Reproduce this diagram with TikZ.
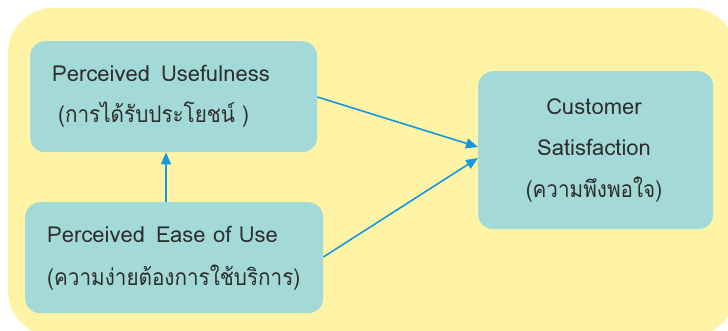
\documentclass[tikz,border=0pt]{standalone}
\usepackage{fontspec}
\usetikzlibrary{arrows.meta}
\newfontfamily\thaifont[Script=Thai]{Loma}
\definecolor{panel}{RGB}{255,244,166}
\definecolor{boxfill}{RGB}{163,218,216}
\definecolor{link}{RGB}{22,152,222}
\definecolor{ink}{RGB}{45,45,45}
% Thai lines are set a little narrower than the Latin ones
\newcommand{\thailine}[1]{\scalebox{0.94}[1.04]{#1}}
\begin{document}
\begin{tikzpicture}[x=1pt,y=-1pt,
  box/.style={draw=none,fill=boxfill,rounded corners=15pt,inner sep=0pt,anchor=north west},
  txt/.style={inner sep=0pt,text=ink,font=\thaifont\fontsize{22}{26}\selectfont},
  link/.style={draw=link,line width=1.6pt,-{Triangle[length=12pt,width=10pt]}}]
\useasboundingbox (0,0) rectangle (728,331);
\fill[panel,rounded corners=45pt] (8,8) rectangle (736,336);
% the three constructs
\node[box,minimum width=287pt,minimum height=111pt] (pu) at (30,41) {};
\node[box,minimum width=298pt,minimum height=111pt] (peou) at (25,202) {};
\node[box,minimum width=235pt,minimum height=158pt] (cs) at (478,71) {};
% labels
\node[txt,anchor=base west] (pu1) at (52,82) {Perceived\hspace{0.5em}Usefulness};
\node[txt,anchor=base west] (pu2) at (58,123) {\thailine{(การได้รับประโยชน์ )}};
\node[txt,anchor=base west] (pe1) at (47,243) {Perceived\hspace{0.5em}Ease of Use};
\node[txt,anchor=base west] (pe2) at (47,285) {\thailine{(ความง่ายต้องการใช้บริการ)}};
\node[txt,anchor=base] (cs1) at (594,115) {Customer};
\node[txt,anchor=base] (cs2) at (594,156) {Satisfaction};
\node[txt,anchor=base] (cs3) at (594,198) {\thailine{(ความพึงพอใจ)}};
% relations
\draw[link] (peou.north -| 166,0) -- (pu.south -| 166,0);
\draw[link] (pu.east |- 0,97) -- (cs.west |- 0,147);
\draw[link] (peou.east |- 0,257) -- (cs.west |- 0,158);
\end{tikzpicture}
\end{document}
